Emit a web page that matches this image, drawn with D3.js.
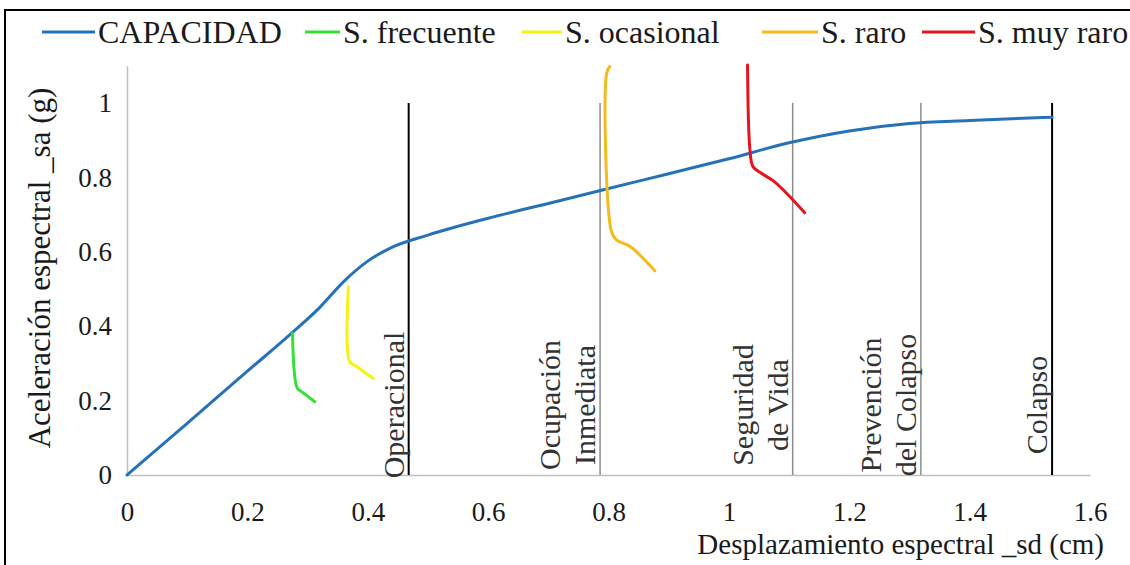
<!DOCTYPE html>
<html>
<head>
<meta charset="utf-8">
<script src="https://cdn.jsdelivr.net/npm/d3@7"></script>
<style>
  body { margin: 0; background: #fff; }
  svg text { font-family: "Liberation Serif", "Times New Roman", serif; fill: #1a1a1a; }
</style>
</head>
<body>
<div id="chart"></div>
<script>
//begin: data
const xTicks = [0, 0.2, 0.4, 0.6, 0.8, 1, 1.2, 1.4, 1.6];
const yTicks = [0, 0.2, 0.4, 0.6, 0.8, 1];

const seriesNames = ["CAPACIDAD", "S. frecuente", "S. ocasional", "S. raro", "S. muy raro"];

const capSd = [0, 0.1, 0.2, 0.274, 0.32, 0.36, 0.40, 0.44, 0.5, 0.6, 0.7, 0.8, 0.9, 1.0, 1.1, 1.2, 1.3, 1.4, 1.537];
const capSa = [0, 0.139, 0.279, 0.382, 0.45, 0.52, 0.575, 0.612, 0.645, 0.69, 0.73, 0.77, 0.81, 0.85, 0.893, 0.925, 0.945, 0.953, 0.962];

const freSd = [0.275, 0.283, 0.290, 0.312];
const freSa = [0.381, 0.233, 0.224, 0.197];

const ocaSd = [0.368, 0.370, 0.382, 0.409];
const ocaSa = [0.506, 0.305, 0.291, 0.260];

const rarSd = [0.802, 0.797, 0.805, 0.813, 0.836, 0.877];
const rarSa = [1.098, 1.080, 0.654, 0.632, 0.614, 0.549];

const mrrSd = [1.031, 1.035, 1.040, 1.054, 1.076, 1.126];
const mrrSa = [1.102, 0.874, 0.829, 0.811, 0.788, 0.705];

const limitSd = [0.468, 0.786, 1.106, 1.319, 1.537];
const limitLabels = [["Operacional"], ["Ocupación", "Inmediata"], ["Seguridad", "de Vida"], ["Prevención", "del Colapso"], ["Colapso"]];
//end: data

//begin: drawing conf.
const width = 1130, height = 565;
const serif = "'Liberation Serif', 'Times New Roman', serif";
const seriesColors = ["#2672b8", "#33e033", "#f7f20f", "#f5bb1a", "#e3161d"];
const limitColors = ["#000", "#8c8c8c", "#8c8c8c", "#8c8c8c", "#000"];
const limitWidths = [2, 1.5, 1.5, 1.5, 2];
//end: drawing conf.

const x = d3.scaleLinear().domain([0, 1.6]).range([127, 1090]);
const y = d3.scaleLinear().domain([0, 1.1]).range([475, 65.8]);

const svg = d3.select("#chart").append("svg")
  .attr("width", width)
  .attr("height", height);

// outer frame
svg.append("path")
  .attr("d", "M5," + height + "V10H" + width)
  .attr("fill", "none")
  .attr("stroke", "#000")
  .attr("stroke-width", 2);

// axes (lines only, no tick marks)
const xAxis = d3.axisBottom(x).tickValues(xTicks).tickSize(0).tickPadding(27)
  .tickFormat(d3.format("~g"));
const gx = svg.append("g").attr("transform", "translate(0," + y(0) + ")").call(xAxis);
gx.select(".domain").attr("stroke", "#bfbfbf").attr("stroke-width", 1.5);
gx.selectAll("text").style("font-size", "27px").style("font-family", serif).attr("fill", "#1a1a1a");

const yAxis = d3.axisLeft(y).tickValues(yTicks).tickSize(0).tickPadding(15)
  .tickFormat(d3.format("~g"));
const gy = svg.append("g").attr("transform", "translate(" + x(0) + ",0)").call(yAxis);
gy.select(".domain").attr("stroke", "#bfbfbf").attr("stroke-width", 1.5);
gy.selectAll("text").style("font-size", "27px").style("font-family", serif).attr("fill", "#1a1a1a");

// axis titles
svg.append("text")
  .attr("transform", "translate(50,268) rotate(-90)")
  .attr("text-anchor", "middle")
  .style("font-size", "31px")
  .text("Aceleración espectral _sa (g)");

svg.append("text")
  .attr("x", 1104).attr("y", 554)
  .attr("text-anchor", "end")
  .style("font-size", "29px")
  .text("Desplazamiento espectral _sd (cm)");

// performance limit lines and labels
const limits = svg.append("g").classed("limits", true);
limitSd.forEach(function (sd, i) {
  limits.append("line")
    .attr("x1", x(sd)).attr("x2", x(sd))
    .attr("y1", y(0)).attr("y2", y(1))
    .attr("stroke", limitColors[i])
    .attr("stroke-width", limitWidths[i]);
  const lines = limitLabels[i];
  lines.forEach(function (txt, j) {
    const bx = x(sd) - 5 - (lines.length - 1 - j) * 35;
    limits.append("text")
      .attr("transform", "translate(" + bx + ",405) rotate(-90)")
      .attr("text-anchor", "middle")
      .style("font-size", "30px")
      .style("fill", "#333")
      .text(txt);
  });
});

// curves
const allSd = [capSd, freSd, ocaSd, rarSd, mrrSd];
const allSa = [capSa, freSa, ocaSa, rarSa, mrrSa];
const capLine = d3.line().x(d => x(d[0])).y(d => y(d[1])).curve(d3.curveMonotoneX);
const demLine = d3.line().x(d => x(d[0])).y(d => y(d[1])).curve(d3.curveCatmullRom.alpha(0.5));

allSd.forEach(function (sds, i) {
  const pts = sds.map((v, k) => [v, allSa[i][k]]);
  svg.append("path")
    .datum(pts)
    .attr("fill", "none")
    .attr("stroke", seriesColors[i])
    .attr("stroke-width", 3)
    .attr("stroke-linejoin", "round")
    .attr("stroke-linecap", "round")
    .attr("d", i === 0 ? capLine : demLine);
});

// legend
const legendItems = [
  { x0: 42, x1: 95 },
  { x0: 305, x1: 340 },
  { x0: 522, x1: 562 },
  { x0: 762, x1: 818 },
  { x0: 922, x1: 975 }
];
const legend = svg.append("g").classed("legend", true);
seriesNames.forEach(function (name, i) {
  const it = legendItems[i];
  legend.append("line")
    .attr("x1", it.x0).attr("x2", it.x1)
    .attr("y1", 32).attr("y2", 32)
    .attr("stroke", seriesColors[i])
    .attr("stroke-width", 3);
  legend.append("text")
    .attr("x", it.x1 + 3).attr("y", 43)
    .style("font-size", "32px")
    .text(name);
});
</script>
</body>
</html>
